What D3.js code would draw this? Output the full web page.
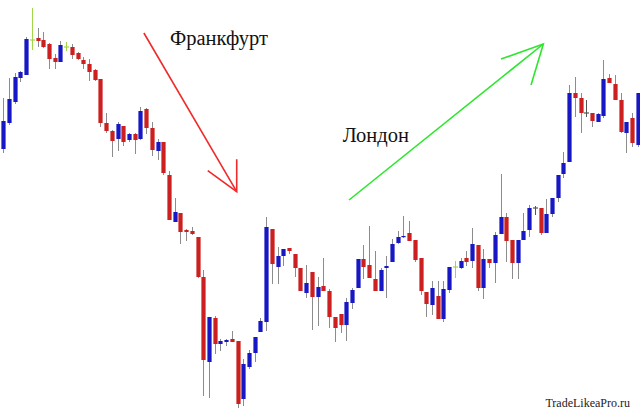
<!DOCTYPE html>
<html>
<head>
<meta charset="utf-8">
<script src="https://cdn.jsdelivr.net/npm/d3@7"></script>
<style>
html, body { margin: 0; padding: 0; background: #fff; overflow: hidden; }
</style>
</head>
<body>
<svg id="chart"></svg>
<script>
// свечи (цены читались с картинки)
const open = [
  1.3264,1.3290,1.3311,1.3335,1.3338,1.3373,1.3375,1.3373,1.3369,1.3355,
  1.3351,1.3366,1.3366,1.3360,1.3353,1.3349,1.3343,1.3334,1.3290,1.3282,
  1.3274,1.3287,1.3273,1.3279,1.3274,1.3304,1.3285,1.3262,1.3271,1.3238,
  1.3191,1.3200,1.3183,1.3182,1.3176,1.3136,1.3051,1.3095,1.3069,1.3071,
  1.3074,1.3072,1.3014,1.3046,1.3060,1.3081,1.3091,1.3184,1.3146,1.3157,
  1.3165,1.3159,1.3145,1.3120,1.3141,1.3116,1.3127,1.3122,1.3096,1.3099,
  1.3088,1.3110,1.3125,1.3154,1.3148,1.3134,1.3122,1.3145,1.3151,1.3170,
  1.3176,1.3180,1.3173,1.3155,1.3121,1.3108,1.3117,1.3094,1.3123,1.3146,
  1.3145,1.3155,1.3152,1.3168,1.3125,1.3154,1.3150,1.3179,1.3196,1.3173,
  1.3150,1.3173,1.3183,1.3205,1.3205,1.3180,1.3199,1.3215,1.3239,1.3251,
  1.3320,1.3315,1.3300,1.3300,1.3291,1.3297,1.3335,1.3329,1.3313,1.3280,1.3295,1.3268
];
const high = [
  1.3315,1.3335,1.3340,1.3342,1.3376,1.3405,1.3385,1.3381,1.3370,1.3359,
  1.3372,1.3371,1.3369,1.3361,1.3356,1.3354,1.3344,1.3334,1.3300,1.3283,
  1.3291,1.3287,1.3280,1.3280,1.3306,1.3305,1.3291,1.3274,1.3271,1.3242,
  1.3215,1.3200,1.3184,1.3186,1.3176,1.3143,1.3096,1.3097,1.3074,1.3074,
  1.3082,1.3072,1.3054,1.3063,1.3076,1.3095,1.3196,1.3184,1.3166,1.3164,
  1.3165,1.3159,1.3145,1.3148,1.3141,1.3136,1.3155,1.3124,1.3096,1.3099,
  1.3115,1.3125,1.3154,1.3168,1.3187,1.3162,1.3145,1.3157,1.3174,1.3182,
  1.3197,1.3192,1.3173,1.3155,1.3121,1.3132,1.3132,1.3132,1.3146,1.3152,
  1.3155,1.3162,1.3185,1.3168,1.3164,1.3154,1.3181,1.3239,1.3200,1.3173,
  1.3173,1.3200,1.3208,1.3207,1.3205,1.3214,1.3215,1.3238,1.3261,1.3328,
  1.3336,1.3320,1.3313,1.3300,1.3300,1.3353,1.3339,1.3338,1.3320,1.3291,1.3300,1.3320
];
const low = [
  1.3260,1.3288,1.3309,1.3331,1.3338,1.3363,1.3366,1.3365,1.3344,1.3344,
  1.3351,1.3362,1.3354,1.3353,1.3344,1.3332,1.3332,1.3286,1.3280,1.3256,
  1.3262,1.3267,1.3271,1.3259,1.3273,1.3279,1.3257,1.3253,1.3238,1.3193,
  1.3191,1.3169,1.3172,1.3178,1.3135,1.3017,1.3015,1.3059,1.3062,1.3067,
  1.3071,1.3005,1.3007,1.3044,1.3051,1.3081,1.3082,1.3129,1.3129,1.3147,
  1.3159,1.3136,1.3122,1.3115,1.3083,1.3087,1.3122,1.3085,1.3071,1.3080,
  1.3072,1.3104,1.3125,1.3134,1.3135,1.3122,1.3122,1.3115,1.3151,1.3169,
  1.3175,1.3172,1.3151,1.3118,1.3096,1.3098,1.3094,1.3091,1.3120,1.3135,
  1.3144,1.3147,1.3145,1.3122,1.3114,1.3145,1.3130,1.3179,1.3151,1.3134,
  1.3134,1.3173,1.3176,1.3198,1.3178,1.3180,1.3196,1.3211,1.3235,1.3251,
  1.3296,1.3280,1.3296,1.3286,1.3291,1.3295,1.3330,1.3313,1.3280,1.3260,1.3266,1.3266
];
const close = [
  1.3292,1.3314,1.3336,1.3341,1.3374,1.3373,1.3372,1.3366,1.3354,1.3351,
  1.3368,1.3366,1.3358,1.3354,1.3349,1.3341,1.3333,1.3290,1.3282,1.3272,
  1.3289,1.3271,1.3279,1.3273,1.3302,1.3285,1.3263,1.3271,1.3240,1.3193,
  1.3201,1.3181,1.3181,1.3179,1.3136,1.3053,1.3096,1.3069,1.3072,1.3073,
  1.3071,1.3009,1.3049,1.3060,1.3076,1.3092,1.3186,1.3149,1.3157,1.3164,
  1.3162,1.3145,1.3122,1.3130,1.3116,1.3126,1.3122,1.3096,1.3085,1.3088,
  1.3111,1.3123,1.3154,1.3146,1.3135,1.3122,1.3143,1.3147,1.3169,1.3176,
  1.3177,1.3172,1.3153,1.3122,1.3109,1.3125,1.3094,1.3124,1.3146,1.3146,
  1.3152,1.3151,1.3169,1.3125,1.3154,1.3150,1.3178,1.3196,1.3172,1.3150,
  1.3173,1.3182,1.3205,1.3205,1.3180,1.3199,1.3215,1.3238,1.3250,1.3320,
  1.3315,1.3300,1.3300,1.3292,1.3299,1.3334,1.3330,1.3313,1.3281,1.3291,1.3270,1.3320
];
// доджи, отмеченные зелёным
const greenDoji = [5, 11, 79];

// стрелки: [индекс свечи, цена] — начало, острие, два уса
const redArrow = [[24.6, 1.3380], [40.84, 1.32213], [35.77, 1.32423], [40.84, 1.32537]];
const greenArrow = [[60.49, 1.3213], [94.49, 1.3369], [87.09, 1.3354], [92.34, 1.3328]];
const labels = [
    {text: "Франкфурт", i: 29.17, p: 1.3368},
    {text: "Лондон", i: 59.39, p: 1.32713}
];

// размеры
let width = 640, height = 413;
let svg = d3.select("#chart")
    .attr("width", width)
    .attr("height", height);

let xLinear = d3.scaleLinear()
    .domain([0, open.length - 1])
    .range([3.3, 637.7]);
let yLinear = d3.scaleLinear()
    .domain([1.3, 1.3413])
    .range([height, 0]);

let candles = open.map(function (o, i) {
    return {i: i, o: o, h: high[i], l: low[i], c: close[i], green: greenDoji.indexOf(i) >= 0};
});

let bodyW = 4.2;

function wickColor(d) {
    if (d.o === d.c) return d.green ? "#9fd64a" : "#555";
    return "#8c8c8c";
}

// тени
svg.selectAll(".wick")
    .data(candles)
    .enter()
    .append("line")
    .attr("class", "wick")
    .attr("x1", function (d) { return Math.round(xLinear(d.i)) + 0.5; })
    .attr("x2", function (d) { return Math.round(xLinear(d.i)) + 0.5; })
    .attr("y1", function (d) { return yLinear(d.h); })
    .attr("y2", function (d) { return yLinear(d.l); })
    .style("stroke", wickColor)
    .style("stroke-width", 1);

// тела
svg.selectAll(".body")
    .data(candles.filter(function (d) { return d.o !== d.c; }))
    .enter()
    .append("rect")
    .attr("class", "body")
    .attr("x", function (d) { return Math.round(xLinear(d.i)) + 0.5 - bodyW / 2; })
    .attr("y", function (d) { return yLinear(Math.max(d.o, d.c)); })
    .attr("width", bodyW)
    .attr("height", function (d) { return Math.max(1.2, Math.abs(yLinear(d.o) - yLinear(d.c))); })
    .style("fill", function (d) { return d.c > d.o ? "#1717c4" : "#cc1f1f"; });

// доджи
svg.selectAll(".doji")
    .data(candles.filter(function (d) { return d.o === d.c; }))
    .enter()
    .append("line")
    .attr("class", "doji")
    .attr("x1", function (d) { return Math.round(xLinear(d.i)) + 0.5 - 2.5; })
    .attr("x2", function (d) { return Math.round(xLinear(d.i)) + 0.5 + 2.5; })
    .attr("y1", function (d) { return yLinear(d.o); })
    .attr("y2", function (d) { return yLinear(d.o); })
    .style("stroke", wickColor)
    .style("stroke-width", 1.2);

// стрелки
function drawArrow(pts, color) {
    let p = pts.map(function (q) { return [xLinear(q[0]), yLinear(q[1])]; });
    svg.append("path")
        .attr("d", d3.line()([p[0], p[1]]))
        .style("fill", "none")
        .style("stroke", color)
        .style("stroke-width", 1.6);
    svg.append("path")
        .attr("d", d3.line()([p[2], p[1], p[3]]))
        .style("fill", "none")
        .style("stroke", color)
        .style("stroke-width", 1.6)
        .style("stroke-linejoin", "miter");
}
drawArrow(redArrow, "#f02a2a");
drawArrow(greenArrow, "#2ee62e");

// подписи
svg.selectAll(".label")
    .data(labels)
    .enter()
    .append("text")
    .attr("class", "label")
    .attr("x", function (d) { return xLinear(d.i); })
    .attr("y", function (d) { return yLinear(d.p); })
    .style("font-family", "'Liberation Serif', 'Times New Roman', serif")
    .style("font-size", "20.5px")
    .style("fill", "#111")
    .text(function (d) { return d.text; });

svg.append("text")
    .attr("x", 630)
    .attr("y", 406.5)
    .attr("text-anchor", "end")
    .style("font-family", "'Liberation Serif', 'Times New Roman', serif")
    .style("font-size", "12px")
    .style("fill", "#222")
    .text("TradeLikeaPro.ru");
</script>
</body>
</html>
